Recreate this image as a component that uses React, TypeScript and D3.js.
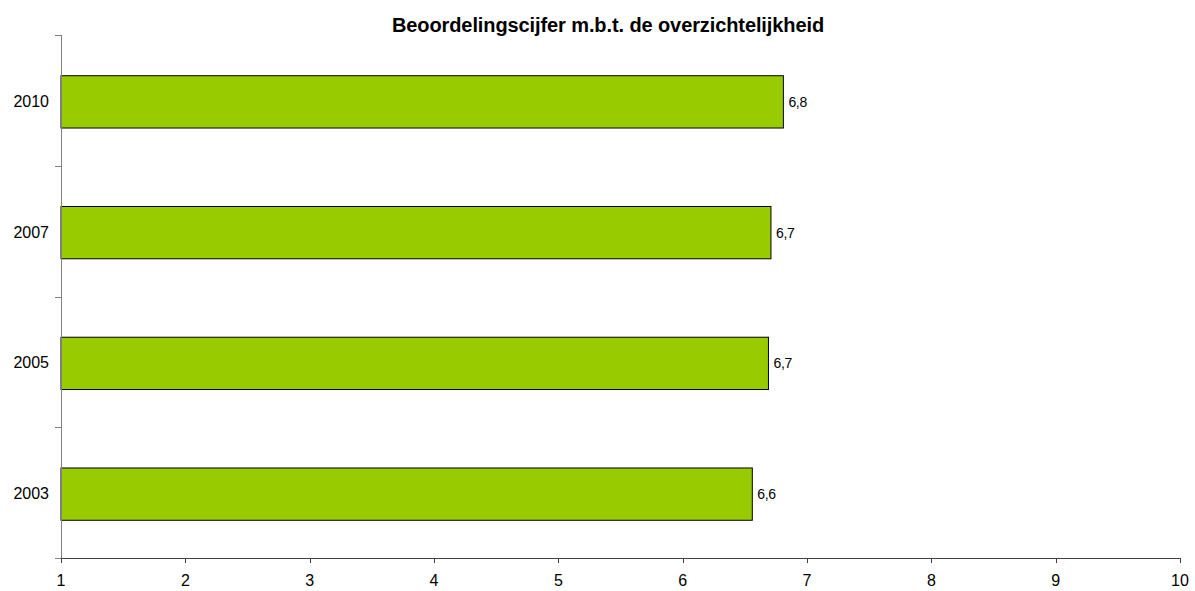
import React from "react";
import * as d3 from "d3";

const categories = ["2010", "2007", "2005", "2003"];
const values = [6.81, 6.71, 6.69, 6.56];
const xTicks = [1, 2, 3, 4, 5, 6, 7, 8, 9, 10];
const title = "Beoordelingscijfer m.b.t. de overzichtelijkheid";

export default function App() {
  const W = 1195, H = 591;
  const left = 61, right = 1180, top = 35, bottom = 558;
  const x = d3.scaleLinear().domain([1, 10]).range([left, right]);
  const y = d3.scaleBand().domain(categories).range([top + 1.5, bottom + 1.5]).paddingInner(0.6).paddingOuter(0.3);
  const yb = d3.scaleBand().domain(categories).range([top, bottom]);
  const fmt = (v: number) => d3.format(".1f")(v).replace(".", ",");
  const font = "Arial, 'Liberation Sans', Helvetica, sans-serif";
  const tickYs = [top, ...categories.map((c) => (yb(c) as number) + yb.bandwidth())];
  return (
    <svg width={W} height={H} style={{ position: "absolute", left: 0, top: 0, background: "#fff" }} fontFamily={font}>
      <text x={608} y={32} textAnchor="middle" fontSize={20} fontWeight="bold" letterSpacing={-0.1} fill="#000">
        {title}
      </text>
      {categories.map((c, i) => (
        <g key={c}>
          <rect x={x(1)} y={y(c)} width={x(values[i]) - x(1)} height={y.bandwidth()} fill="#99CC00" stroke="#000" strokeWidth={1} />
          <text x={x(values[i]) + 5} y={(y(c) as number) + y.bandwidth() / 2} dy="0.35em" fontSize={14} letterSpacing={-0.3} fill="#000">
            {fmt(values[i])}
          </text>
          <text x={49} y={(yb(c) as number) + yb.bandwidth() / 2 + 1} dy="0.35em" textAnchor="end" fontSize={16} letterSpacing={0} fill="#000">
            {c}
          </text>
        </g>
      ))}
      <line x1={left + 0.5} x2={left + 0.5} y1={top} y2={bottom} stroke="#808080" />
      {tickYs.map((t, i) => (
        <line key={i} x1={55} x2={left} y1={Math.round(t) + 0.5} y2={Math.round(t) + 0.5} stroke="#808080" />
      ))}
      <line x1={left} x2={right} y1={bottom + 0.5} y2={bottom + 0.5} stroke="#404040" />
      {xTicks.map((t) => (
        <g key={t}>
          <line x1={Math.round(x(t)) + 0.5} x2={Math.round(x(t)) + 0.5} y1={bottom} y2={bottom + 5} stroke="#404040" />
          <text x={x(t)} y={586} textAnchor="middle" fontSize={16} fill="#000">
            {t}
          </text>
        </g>
      ))}
    </svg>
  );
}
